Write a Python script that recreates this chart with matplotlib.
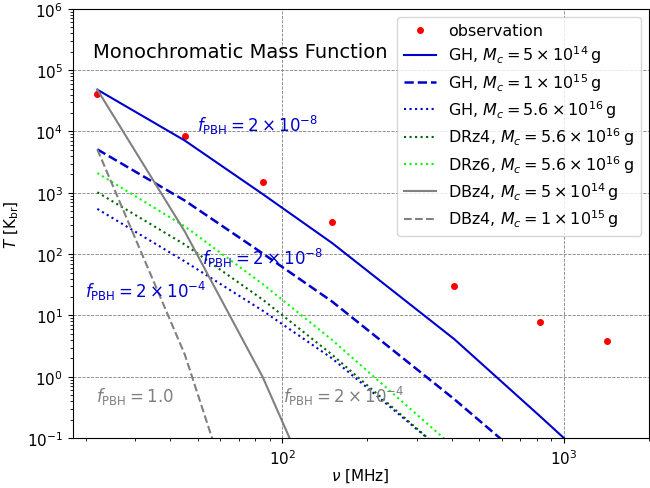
import matplotlib
matplotlib.use("Agg")
import matplotlib.pyplot as plt

# frequency nodes [MHz]
nu = [22, 45, 85, 150, 408, 820, 1420]

# observed radio background
T_obs = [4.1e4, 8.4e3, 1.52e3, 339, 29.9, 7.7, 3.8]

# Gaussian halo (GH) models
T_gh_5e14 = [4.8e4, 7.1e3, 955, 152, 4.1, 0.23, 0.023]
T_gh_1e15 = [5.1e3, 746, 103, 16.9, 0.43, 0.028]
T_gh_56e16 = [546, 76, 12, 2.0, 0.043]

# DR models
T_drz4 = [1020, 143, 18.2, 2.3, 0.042]
T_drz6 = [2100, 283, 32.6, 4.0, 0.07]

# DB models
T_dbz4_5e14 = [4.8e4, 233, 1.0, 2.7e-3]
T_dbz4_1e15 = [5.1e3, 2.3, 3e-4]

blue = 'mediumblue'

fig, ax = plt.subplots(figsize=(6.5, 4.89), dpi=100)
fig.subplots_adjust(left=0.112, right=0.998, top=0.980, bottom=0.102)

ax.plot(nu, T_obs, 'o', color='red', ms=4, label='observation')
ax.plot(nu[:len(T_gh_5e14)], T_gh_5e14, '-', color=blue, lw=1.5,
        label=r'GH, $M_c = 5\times10^{14}\,$g')
ax.plot(nu[:len(T_gh_1e15)], T_gh_1e15, '--', color=blue, lw=1.8,
        label=r'GH, $M_c = 1\times10^{15}\,$g')
ax.plot(nu[:len(T_gh_56e16)], T_gh_56e16, ':', color=blue, lw=1.5,
        label=r'GH, $M_c = 5.6\times10^{16}\,$g')
ax.plot(nu[:len(T_drz4)], T_drz4, ':', color='darkgreen', lw=1.5,
        label=r'DRz4, $M_c = 5.6\times10^{16}\,$g')
ax.plot(nu[:len(T_drz6)], T_drz6, ':', color='lime', lw=1.5,
        label=r'DRz6, $M_c = 5.6\times10^{16}\,$g')
ax.plot(nu[:len(T_dbz4_5e14)], T_dbz4_5e14, '-', color='gray', lw=1.5,
        label=r'DBz4, $M_c = 5\times10^{14}\,$g')
ax.plot(nu[:len(T_dbz4_1e15)], T_dbz4_1e15, '--', color='gray', lw=1.5,
        label=r'DBz4, $M_c = 1\times10^{15}\,$g')

ax.set_xscale('log')
ax.set_yscale('log')
ax.set_xlim(18, 2000)
ax.set_ylim(1e-1, 1e6)
ax.grid(True, which='major', ls='--', color='gray', lw=0.6)
ax.tick_params(labelsize=11)
ax.set_xlabel(r'$\nu$ [MHz]', fontsize=11, labelpad=0)
ax.set_ylabel(r'$T$ [K$_{\rm br}$]', fontsize=11)

ax.text(0.035, 0.90, 'Monochromatic Mass Function', transform=ax.transAxes,
        fontsize=14, va='center')
ax.text(0.215, 0.73, r'$f_{\rm PBH} = 2\times10^{-8}$', transform=ax.transAxes,
        fontsize=12, color=blue, va='center')
ax.text(0.225, 0.42, r'$f_{\rm PBH} = 2\times10^{-8}$', transform=ax.transAxes,
        fontsize=12, color=blue, va='center')
ax.text(0.022, 0.345, r'$f_{\rm PBH} = 2\times10^{-4}$', transform=ax.transAxes,
        fontsize=12, color=blue, va='center')
ax.text(0.04, 0.10, r'$f_{\rm PBH} = 1.0$', transform=ax.transAxes,
        fontsize=12, color='gray', va='center')
ax.text(0.365, 0.10, r'$f_{\rm PBH} = 2\times10^{-4}$', transform=ax.transAxes,
        fontsize=12, color='gray', va='center')

ax.legend(loc='upper right', fontsize=11.5, labelspacing=0.35)

fig.savefig('out.png', dpi=100)
